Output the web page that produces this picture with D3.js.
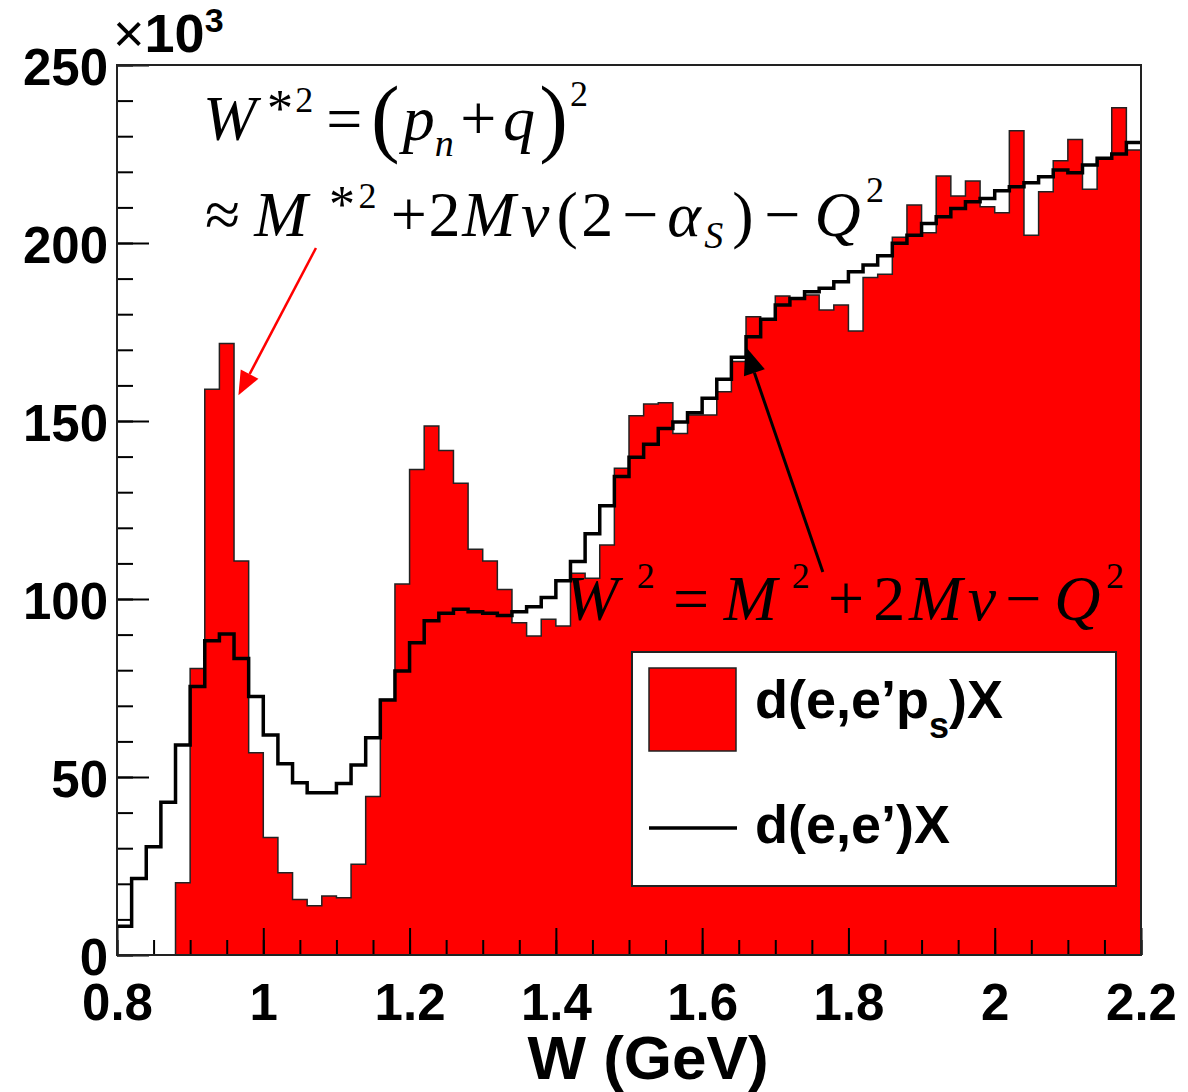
<!DOCTYPE html>
<html>
<head>
<meta charset="utf-8">
<script src="https://cdn.jsdelivr.net/npm/d3@7"></script>
<style>
  body { margin: 0; background: #fff; }
  svg { display: block; }
</style>
</head>
<body>
<svg id="chart" width="1188" height="1092"></svg>
<script>
// binning of W (GeV)
var wMin = 0.8
var wMax = 2.2
var binWidth = 0.02

// counts per bin in units of 10^3
var inclusiveCounts = [8.1, 21.5, 30.4, 42.9, 59, 75.4, 88.3, 90.2, 83.3, 72.6,
    61.8, 53.7, 48.4, 45.6, 45.6, 48.2, 53.4, 61, 71.6, 79.8,
    87.7, 93.9, 96, 97.1, 96.4, 96, 95.4, 96.4, 97.8, 100.4,
    105.1, 110.5, 118.3, 126.2, 134.4, 139.8, 143.5, 147.9, 149.7, 152.3,
    156.4, 161.7, 167.9, 173.7, 178.6, 182.6, 184.4, 186.3, 187.3, 189.1,
    191.9, 193.8, 196.4, 199.9, 202.2, 205.5, 207.4, 209.7, 211.6, 212.5,
    214.7, 215.8, 216.9, 218.6, 220.5, 219.7, 221.9, 223.8, 225, 228.2]

var taggedCounts = [0, 0, 0, 0, 20.3, 80.5, 158.9, 171.8, 110.7, 56.8,
    33, 23.1, 15.6, 13.8, 16.6, 16.1, 25.5, 44.5, 71.8, 104.2,
    136.4, 148.6, 141.7, 132.5, 114, 110.7, 102.7, 93.3, 89.6, 94.3,
    92.4, 107.2, 105.8, 115.2, 136.7, 151.5, 154.8, 155.1, 146.5, 151.7,
    151.7, 158.2, 166.7, 179.3, 178.4, 185.1, 184.2, 185.4, 181.2, 182.6,
    175.3, 190.3, 191.2, 201.6, 210.7, 202.9, 218.8, 213.2, 217.4, 210.2,
    208.5, 231.5, 202.2, 214.4, 223.1, 229.1, 215.1, 223.5, 238, 226.1]

var xTicks = [0.8, 1, 1.2, 1.4, 1.6, 1.8, 2, 2.2]
var yTicks = [0, 50, 100, 150, 200, 250]
var legendLabels = ['d(e,e\u2019p', 'd(e,e\u2019)X']

var svg = d3.select('#chart')

var x = d3.scaleLinear().domain([wMin, wMax]).range([117, 1141])
var y = d3.scaleLinear().domain([0, 250]).range([955, 65])

// turn bin contents into step points
var steps = (counts) => counts.flatMap((v, i) => {
    var lo = wMin + i * binWidth
    return [[lo, v], [lo + binWidth, v]]
})

var line = d3.line().x(d => x(d[0])).y(d => y(d[1]))

// red filled histogram, closed down to zero
svg.append('path')
    .attr('d', line([[wMin, 0]].concat(steps(taggedCounts), [[wMax, 0]])) + 'Z')
    .attr('fill', '#ff0000')
    .attr('stroke', '#222')
    .attr('stroke-width', 1.5)

// black outline histogram
svg.append('path')
    .attr('d', line(steps(inclusiveCounts)))
    .attr('fill', 'none')
    .attr('stroke', '#000')
    .attr('stroke-width', 3.5)

// axes, ticks pointing into the frame like ROOT
var xMinor = d3.range(0, 29).map(i => wMin + i * 0.05)
var yMinor = d3.range(0, 26).map(i => i * 10)

var tickFont = t => t
    .style('font-family', '"Liberation Sans", Arial, sans-serif')
    .style('font-weight', 'bold')
    .style('font-size', '51px')
    .attr('fill', '#000')

svg.append('g')
    .attr('transform', 'translate(0,955)')
    .call(d3.axisBottom(x).tickValues(xMinor).tickSize(-15).tickFormat(''))
svg.append('g')
    .attr('transform', 'translate(0,955)')
    .call(d3.axisBottom(x).tickValues(xTicks).tickSize(-27).tickPadding(29).tickFormat(d3.format('~g')))
    .call(g => g.selectAll('text').attr('dy', '0.71em').call(tickFont))

svg.append('g')
    .attr('transform', 'translate(117,0)')
    .call(d3.axisLeft(y).tickValues(yMinor).tickSize(-16).tickFormat(''))
svg.append('g')
    .attr('transform', 'translate(117,0)')
    .call(d3.axisLeft(y).tickValues(yTicks).tickSize(-32).tickPadding(9))
    .call(g => g.selectAll('text').attr('dy', '0.38em').call(tickFont))

svg.selectAll('.tick line').attr('stroke', '#000').attr('stroke-width', 2)
svg.selectAll('.domain').remove()

// frame
svg.append('rect')
    .attr('x', x(wMin)).attr('y', y(250))
    .attr('width', x(wMax) - x(wMin)).attr('height', y(0) - y(250))
    .attr('fill', 'none')
    .attr('stroke', '#222')
    .attr('stroke-width', 2)

// x10^3 multiplier
var mult = svg.append('text')
    .attr('x', 113).attr('y', 52)
    .style('font-family', '"Liberation Sans", Arial, sans-serif')
mult.append('tspan').style('font-size', '54px').text('\u00d7')
mult.append('tspan').style('font-weight', 'bold').style('font-size', '54px').text('10')
mult.append('tspan').style('font-weight', 'bold').style('font-size', '34px').attr('dy', -20).text('3')

// x axis title
svg.append('text')
    .attr('x', 648).attr('y', 1079)
    .attr('text-anchor', 'middle')
    .style('font-family', '"Liberation Sans", Arial, sans-serif')
    .style('font-weight', 'bold')
    .style('font-size', '62px')
    .text('W (GeV)')

// legend
var legend = svg.append('g')
legend.append('rect')
    .attr('x', 632).attr('y', 652).attr('width', 484).attr('height', 234)
    .attr('fill', '#fff').attr('stroke', '#222').attr('stroke-width', 2)
legend.append('rect')
    .attr('x', 649).attr('y', 668).attr('width', 87).attr('height', 83)
    .attr('fill', '#ff0000').attr('stroke', '#222').attr('stroke-width', 1.5)
legend.append('line')
    .attr('x1', 649).attr('x2', 737).attr('y1', 828).attr('y2', 828)
    .attr('stroke', '#000').attr('stroke-width', 3.5)

var legendFont = t => t
    .style('font-family', '"Liberation Sans", Arial, sans-serif')
    .style('font-weight', 'bold')
    .style('font-size', '54px')

var l1 = legend.append('text').attr('x', 755).attr('y', 718).call(legendFont)
l1.append('tspan').text(legendLabels[0])
l1.append('tspan').style('font-size', '36px').attr('dy', 20).text('s')
l1.append('tspan').attr('dy', -20).text(')X')
legend.append('text').attr('x', 755).attr('y', 843).call(legendFont).text(legendLabels[1])

// formulas: runs of [text, gap before, italic, size, baseline shift]
// glyphs are laid out one after another, gaps stretched so the line spans x0..x1
var drawFormula = (x0, x1, y0, runs) => {
    var g = svg.append('g')
    var nodes = runs.map(r => g.append('text')
        .attr('y', y0 + (r[4] || 0))
        .style('font-family', '"Liberation Serif", "Times New Roman", serif')
        .style('font-style', r[2] ? 'italic' : 'normal')
        .style('font-size', (r[3] || 64) + 'px')
        .text(r[0]))
    var widths = nodes.map(n => n.node().getComputedTextLength())
    var gaps = runs.map(r => r[1])
    var f = (x1 - x0 - d3.sum(widths)) / d3.sum(gaps)
    var cur = x0
    nodes.forEach((n, i) => {
        cur += gaps[i] * f
        n.attr('x', cur)
        cur += widths[i]
    })
}

drawFormula(203, 588, 140, [
    ['W', 0, true], ['*', 10, false, 52, -14], ['2', 2, false, 36, -28],
    ['=', 12, false], ['(', 8, false, 86, 6], ['p', 3, true], ['n', 0, true, 38, 16],
    ['+', 6, false], ['q', 6, true], [')', 4, false, 86, 6], ['2', 2, false, 36, -34]
])

drawFormula(205, 884, 236, [
    ['\u2248', 0, false], ['M', 8, true], ['*', 12, false, 52, -14], ['2', 2, false, 36, -28],
    ['+', 8, false], ['2', 1, false], ['M', 1, true], ['\u03bd', 3, true], ['(', 4, false],
    ['2', 2, false], ['\u2212', 5, false], ['\u03b1', 5, true], ['S', 2, true, 38, 12],
    [')', 5, false], ['\u2212', 6, false], ['Q', 8, true], ['2', 3, false, 36, -34]
])

drawFormula(565, 1124, 620, [
    ['W', 0, true], ['2', 10, false, 36, -32], ['=', 10, false], ['M', 8, true],
    ['2', 8, false, 36, -32], ['+', 10, false], ['2', 5, false], ['M', 2, true],
    ['\u03bd', 3, true], ['\u2212', 5, false], ['Q', 7, true], ['2', 3, false, 36, -32]
])

// arrows, given in data coordinates
var drawArrow = (from, to, color, width, headLen, headHalf) => {
    var x1 = x(from[0]), y1 = y(from[1]), x2 = x(to[0]), y2 = y(to[1])
    var a = Math.atan2(y2 - y1, x2 - x1)
    var bx = x2 - headLen * Math.cos(a), by = y2 - headLen * Math.sin(a)
    svg.append('line')
        .attr('x1', x1).attr('y1', y1).attr('x2', bx).attr('y2', by)
        .attr('stroke', color).attr('stroke-width', width)
    var px = -Math.sin(a) * headHalf, py = Math.cos(a) * headHalf
    svg.append('path')
        .attr('d', 'M' + x2 + ',' + y2 + 'L' + (bx + px) + ',' + (by + py) + 'L' + (bx - px) + ',' + (by - py) + 'Z')
        .attr('fill', color)
}

drawArrow([1.072, 198.6], [0.966, 157.2], '#ff0000', 2.5, 24, 10)
drawArrow([1.765, 107.6], [1.659, 171], '#000', 3, 28, 11)
</script>
</body>
</html>
